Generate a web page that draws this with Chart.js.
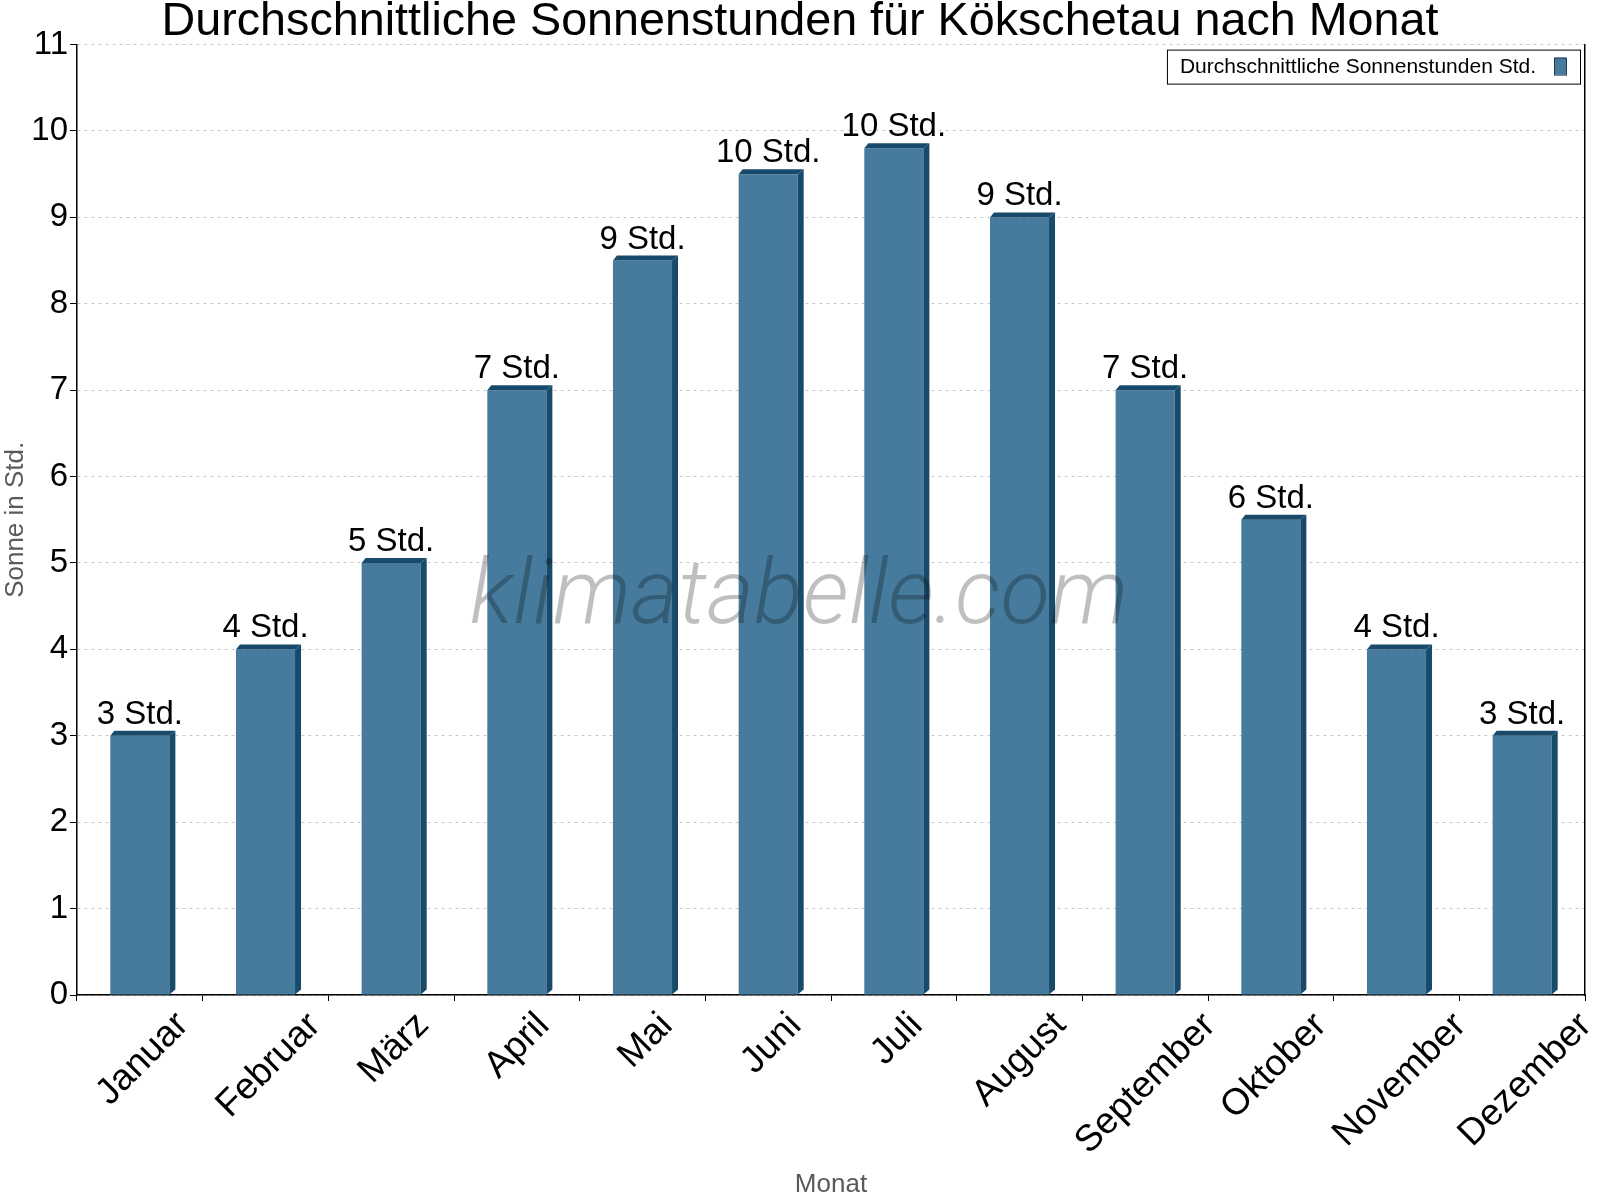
<!DOCTYPE html>
<html>
<head>
<meta charset="utf-8">
<script src="https://cdn.jsdelivr.net/npm/chart.js@4.4.1/dist/chart.umd.min.js"></script>
<style>
  html, body { margin: 0; padding: 0; background: #fff; }
  canvas { display: block; }
</style>
</head>
<body>
<canvas id="chart" width="1600" height="1200"></canvas>
<script>
// ---- Daten ----
const months = ['Januar', 'Februar', 'März', 'April', 'Mai', 'Juni', 'Juli',
  'August', 'September', 'Oktober', 'November', 'Dezember'];
const sunHours = [3, 4, 5, 7, 8.5, 9.5, 9.8, 9, 7, 5.5, 4, 3];
const seriesLabel = 'Durchschnittliche Sonnenstunden Std.';
const chartTitle = 'Durchschnittliche Sonnenstunden für Kökschetau nach Monat';
const yTitle = 'Sonne in Std.';
const xTitle = 'Monat';
const unit = 'Std.';
const yMin = 0, yMax = 11;

const FONT = "'Liberation Sans', Arial, sans-serif";
const BAR_FRONT = '#467b9d';
const BAR_DARK = '#184a6b';

// ---- 3D-Seiten der Balken ----
const bar3d = {
  id: 'bar3d',
  afterDatasetsDraw(chart) {
    const ctx = chart.ctx;
    const meta = chart.getDatasetMeta(0);
    const dx = 6, dy = 5;
    ctx.save();
    ctx.fillStyle = BAR_DARK;
    meta.data.forEach(bar => {
      const {x, y, base, width} = bar.getProps(['x', 'y', 'base', 'width'], true);
      const x0 = x - width / 2, x1 = x + width / 2;
      // Seite
      ctx.beginPath();
      ctx.moveTo(x1, y);
      ctx.lineTo(x1 + dx, y - dy);
      ctx.lineTo(x1 + dx, base - dy);
      ctx.lineTo(x1, base);
      ctx.closePath();
      ctx.fill();
      // Deckel
      ctx.beginPath();
      ctx.moveTo(x0, y);
      ctx.lineTo(x0 + dx - 2, y - dy);
      ctx.lineTo(x1 + dx, y - dy);
      ctx.lineTo(x1, y);
      ctx.closePath();
      ctx.fill();
    });
    ctx.restore();
  }
};

// ---- Wasserzeichen ----
const watermark = {
  id: 'watermark',
  afterDatasetsDraw(chart) {
    const ctx = chart.ctx;
    ctx.save();
    ctx.font = "italic 300 91px Roboto, 'Liberation Sans', sans-serif";
    ctx.fillStyle = 'rgba(0,0,0,0.25)';
    ctx.textAlign = 'center';
    ctx.textBaseline = 'alphabetic';
    ctx.fillText('klimatabelle.com', 799, 623);
    ctx.restore();
  }
};

// ---- Werte über den Balken ----
const valueLabels = {
  id: 'valueLabels',
  afterDatasetsDraw(chart) {
    const ctx = chart.ctx;
    const meta = chart.getDatasetMeta(0);
    ctx.save();
    ctx.font = '33px ' + FONT;
    ctx.fillStyle = '#000';
    ctx.textAlign = 'center';
    ctx.textBaseline = 'alphabetic';
    meta.data.forEach((bar, i) => {
      const {x, y} = bar.getProps(['x', 'y'], true);
      ctx.fillText(Math.round(sunHours[i]) + ' ' + unit, x, y - 12);
    });
    ctx.restore();
  }
};

// ---- gedrehte Monatsnamen, mittig unter der Kategorie ----
const monthLabels = {
  id: 'monthLabels',
  afterDraw(chart) {
    const ctx = chart.ctx;
    const xs = chart.scales.x;
    const top = xs.top + 13;
    const s = Math.SQRT1_2;
    ctx.save();
    ctx.font = '37px ' + FONT;
    ctx.fillStyle = '#000';
    ctx.textAlign = 'center';
    ctx.textBaseline = 'alphabetic';
    months.forEach((m, i) => {
      const mt = ctx.measureText(m);
      const asc = mt.actualBoundingBoxAscent, desc = mt.actualBoundingBoxDescent;
      const L = mt.width;
      const cx = xs.getPixelForValue(i) + 1;
      const cy = top + (L + asc + desc) / 2 * s;
      ctx.save();
      ctx.translate(cx, cy);
      ctx.rotate(-Math.PI / 4);
      ctx.fillText(m, 0, (asc - desc) / 2);
      ctx.restore();
    });
    ctx.restore();
  }
};

// ---- Legende mit Rahmen ----
const boxLegend = {
  id: 'boxLegend',
  afterDraw(chart) {
    const ctx = chart.ctx;
    const a = chart.chartArea;
    ctx.save();
    ctx.font = '21px ' + FONT;
    const tw = ctx.measureText(seriesLabel).width;
    const w = tw + 57, h = 34;
    const x = a.right - 5 - w, y = a.top + 5;
    ctx.fillStyle = '#fff';
    ctx.fillRect(x, y, w, h);
    ctx.strokeStyle = '#000';
    ctx.lineWidth = 1;
    ctx.strokeRect(x + 0.5, y + 0.5, w, h);
    ctx.fillStyle = '#000';
    ctx.textBaseline = 'middle';
    ctx.fillText(seriesLabel, x + 13, y + h / 2 + 1);
    ctx.fillStyle = BAR_FRONT;
    ctx.fillRect(x + w - 26, y + 8, 12, 17);
    ctx.strokeStyle = '#1b3d55';
    ctx.strokeRect(x + w - 25.5, y + 8.5, 12, 17);
    ctx.restore();
  }
};

Chart.defaults.font.family = FONT;
Chart.defaults.color = '#000';

new Chart(document.getElementById('chart'), {
  type: 'bar',
  data: {
    labels: months,
    datasets: [{
      label: seriesLabel,
      data: sunHours,
      backgroundColor: BAR_FRONT,
      borderWidth: 0,
      categoryPercentage: 1,
      barPercentage: 0.47
    }]
  },
  options: {
    responsive: false,
    animation: false,
    devicePixelRatio: 1,
    layout: { padding: { left: 0, right: 0, top: 0, bottom: 0 } },
    plugins: {
      legend: { display: false },
      tooltip: { enabled: false },
      title: {
        display: true,
        text: chartTitle,
        color: '#000',
        font: { size: 46.7, weight: 'normal', lineHeight: 0.955 },
        padding: { top: 0, bottom: 0 }
      }
    },
    scales: {
      x: {
        offset: true,
        grid: {
          offset: true,
          drawOnChartArea: false,
          tickLength: 6,
          tickColor: '#000'
        },
        border: { color: '#000', width: 1.5 },
        ticks: { display: false, autoSkip: false },
        title: {
          display: true,
          text: xTitle,
          color: '#5a5a5a',
          font: { size: 26 },
          padding: { top: 0, bottom: 0 }
        },
        afterFit(scale) { scale.height = 205; }
      },
      y: {
        min: yMin,
        max: yMax,
        ticks: {
          stepSize: 1,
          color: '#000',
          font: { size: 33 },
          padding: 2
        },
        grid: {
          color: '#c8c8c8',
          tickColor: '#000',
          tickLength: 7,
          tickBorderDash: []
        },
        border: { color: '#000', width: 1.5, dash: [3, 4] },
        title: {
          display: true,
          text: yTitle,
          color: '#5a5a5a',
          font: { size: 26 },
          padding: { top: 0, bottom: 0 }
        },
        afterFit(scale) { scale.width = 77; }
      },
      y2: {
        position: 'right',
        min: yMin,
        max: yMax,
        ticks: { display: false },
        grid: { drawOnChartArea: false, drawTicks: false },
        border: { color: '#000', width: 1.5 },
        afterFit(scale) { scale.width = 15; }
      }
    }
  },
  plugins: [bar3d, watermark, valueLabels, monthLabels, boxLegend]
});
</script>
</body>
</html>
